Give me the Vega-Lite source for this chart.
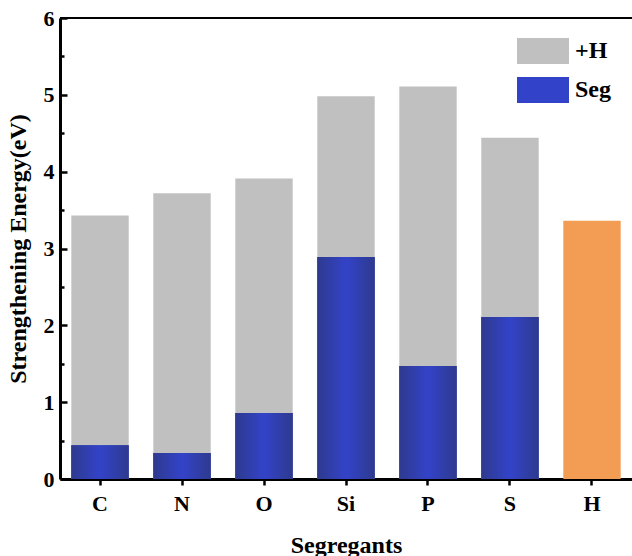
{
  "$schema": "https://vega.github.io/schema/vega-lite/v6.json",
  "width": 572,
  "height": 461,
  "autosize": {"type": "none"},
  "padding": {"left": 60, "top": 18, "right": 0, "bottom": 77},
  "background": "white",
  "data": {
    "values": [
      {"Segregant": "C", "Type": "+H", "Energy": 3.43},
      {"Segregant": "C", "Type": "Seg", "Energy": 0.44},
      {"Segregant": "N", "Type": "+H", "Energy": 3.72},
      {"Segregant": "N", "Type": "Seg", "Energy": 0.34},
      {"Segregant": "O", "Type": "+H", "Energy": 3.91},
      {"Segregant": "O", "Type": "Seg", "Energy": 0.86},
      {"Segregant": "Si", "Type": "+H", "Energy": 4.98},
      {"Segregant": "Si", "Type": "Seg", "Energy": 2.89},
      {"Segregant": "P", "Type": "+H", "Energy": 5.11},
      {"Segregant": "P", "Type": "Seg", "Energy": 1.47},
      {"Segregant": "S", "Type": "+H", "Energy": 4.44},
      {"Segregant": "S", "Type": "Seg", "Energy": 2.11},
      {"Segregant": "H", "Type": "H", "Energy": 3.36}
    ]
  },
  "encoding": {
    "x": {
      "field": "Segregant",
      "type": "nominal",
      "sort": null,
      "scale": {"paddingInner": 0.3, "paddingOuter": 0.138},
      "axis": {
        "title": "Segregants",
        "labelAngle": 0,
        "labelFont": "Liberation Serif",
        "labelFontWeight": "bold",
        "labelFontSize": 22,
        "labelColor": "black",
        "labelPadding": 8,
        "titleFont": "Liberation Serif",
        "titleFontWeight": "bold",
        "titleFontSize": 24,
        "titleColor": "black",
        "titlePadding": 19,
        "domainColor": "black",
        "domainWidth": 3,
        "tickColor": "black",
        "tickWidth": 2.5,
        "tickSize": 6
      }
    },
    "y": {
      "field": "Energy",
      "type": "quantitative",
      "stack": null,
      "scale": {"domain": [0, 6], "nice": false},
      "axis": {
        "title": "Strengthening Energy(eV)",
        "values": [0, 0.5, 1, 1.5, 2, 2.5, 3, 3.5, 4, 4.5, 5, 5.5, 6],
        "labelExpr": "datum.value % 1 === 0 ? format(datum.value, 'd') : ''",
        "grid": false,
        "labelFont": "Liberation Serif",
        "labelFontWeight": "bold",
        "labelFontSize": 22,
        "labelColor": "black",
        "labelPadding": 13,
        "titleFont": "Liberation Serif",
        "titleFontWeight": "bold",
        "titleFontSize": 24,
        "titleColor": "black",
        "titlePadding": 13,
        "domainColor": "black",
        "domainWidth": 3,
        "tickColor": "black",
        "tickWidth": 2.5,
        "tickSize": {"condition": {"test": "datum.value % 1 === 0", "value": -7}, "value": -4}
      }
    }
  },
  "layer": [
    {
      "mark": {"type": "bar", "strokeWidth": 0},
      "encoding": {
        "color": {
          "field": "Type",
          "type": "nominal",
          "scale": {
            "domain": ["+H", "Seg", "H"],
            "range": ["#c0c0c0", "#3343c9", "#f39c54"]
          },
          "legend": {
            "values": ["+H", "Seg"],
            "title": null,
            "orient": "none",
            "legendX": 457,
            "legendY": 7,
            "padding": 0,
            "symbolType": "M-1,-0.5H1V0.5H-1Z",
            "symbolSize": 2704,
            "symbolStrokeWidth": 0,
            "symbolOpacity": 1,
            "rowPadding": -18,
            "labelOffset": 6,
            "labelFont": "Liberation Serif",
            "labelFontWeight": "bold",
            "labelFontSize": 24,
            "labelColor": "black",
            "encode": {
              "symbols": {
                "update": {
                  "fill": [
                    {
                      "test": "datum.value === 'Seg'",
                      "value": {
                        "gradient": "linear",
                        "x1": 0, "y1": 0, "x2": 1, "y2": 0,
                        "stops": [
                          {"offset": 0, "color": "#2e3a8e"},
                          {"offset": 0.5, "color": "#3343c9"},
                          {"offset": 1, "color": "#2e3a8e"}
                        ]
                      }
                    },
                    {"value": "#c0c0c0"}
                  ]
                }
              }
            }
          }
        }
      }
    },
    {
      "transform": [{"filter": "datum.Type === 'Seg'"}],
      "mark": {
        "type": "bar",
        "strokeWidth": 0,
        "color": {
          "gradient": "linear",
          "x1": 0, "y1": 0, "x2": 1, "y2": 0,
          "stops": [
            {"offset": 0, "color": "#2e3a8e"},
            {"offset": 0.5, "color": "#3343c9"},
            {"offset": 1, "color": "#2e3a8e"}
          ]
        }
      }
    },
    {
      "mark": {"type": "rule", "color": "black", "strokeWidth": 2},
      "encoding": {"x": {"value": 0}, "x2": {"value": 572}, "y": {"datum": 6}}
    }
  ],
  "config": {"view": {"stroke": null}}
}
